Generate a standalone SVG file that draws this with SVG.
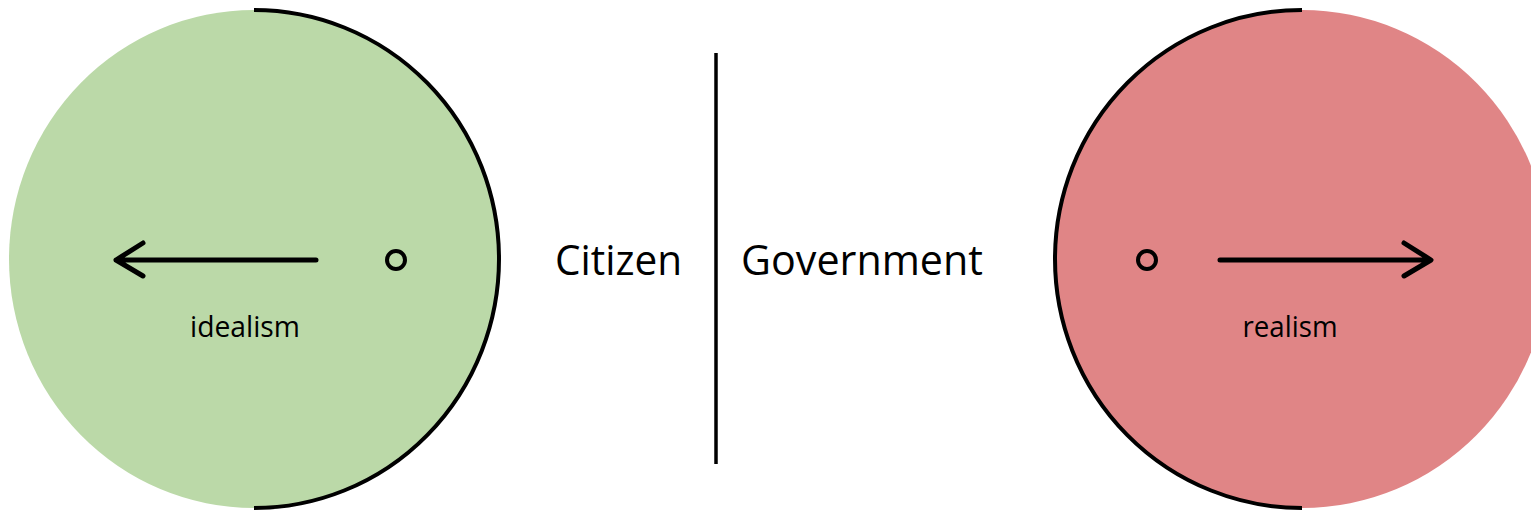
<svg xmlns="http://www.w3.org/2000/svg" width="1531" height="511" viewBox="0 0 1531 511">
<style>
.edge{fill:none;stroke:#000;stroke-width:4}
.arr{fill:none;stroke:#000;stroke-width:5;stroke-linecap:round;stroke-linejoin:round}
.dot{fill:none;stroke:#000;stroke-width:4}
.big{font-family:"Open Sans","Noto Sans",sans-serif;font-size:42px;fill:#000}
.small{font-family:"Open Sans","Noto Sans",sans-serif;font-size:30px;fill:#000;text-anchor:middle}
</style>
<rect width="1531" height="511" fill="#fff"/>
<g id="idealism-node">
<ellipse cx="254" cy="259" rx="245" ry="249" fill="#BBD9A8"/>
<path class="edge" d="M254 10 A245 249 0 0 1 254 508"/>
<circle class="dot" cx="396" cy="260" r="9"/>
<text class="small" x="245" y="337" textLength="110" lengthAdjust="spacingAndGlyphs">idealism</text>
</g>
<g id="realism-node">
<ellipse cx="1302" cy="259" rx="247" ry="249" fill="#E08586"/>
<path class="edge" d="M1302 10 A247 249 0 0 0 1302 508"/>
<circle class="dot" cx="1147" cy="260" r="9"/>
<text class="small" x="1290" y="337" textLength="95" lengthAdjust="spacingAndGlyphs">realism</text>
</g>
<g id="divider-node">
<line x1="716" y1="53" x2="716" y2="464" stroke="#000" stroke-width="3.5"/>
<text class="big" x="555" y="275" textLength="127" lengthAdjust="spacingAndGlyphs">Citizen</text>
<text class="big" x="741" y="275" textLength="242" lengthAdjust="spacingAndGlyphs">Government</text>
</g>
<g id="connectors">
<path class="arr" d="M316 260 H116 M143 243 L116 260 L143 276"/>
<path class="arr" d="M1220 260 H1430 M1404 243 L1431 260 L1404 276"/>
</g>
</svg>
